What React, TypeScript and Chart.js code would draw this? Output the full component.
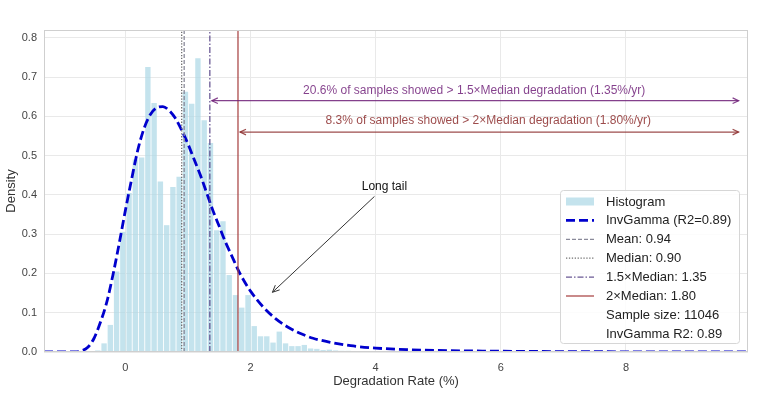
import { useEffect, useRef } from "react";
import { Chart, registerables } from "chart.js";
Chart.register(...registerables);

// ---------- data ----------
const binCenters = [
  -0.44, -0.34, -0.24, -0.14, -0.04, 0.06, 0.16, 0.26, 0.36, 0.46, 0.56, 0.66, 0.76, 0.86, 0.96,
  1.06, 1.16, 1.26, 1.36, 1.46, 1.56, 1.66, 1.76, 1.86, 1.96, 2.06, 2.16, 2.26, 2.36, 2.46,
  2.56, 2.66, 2.76, 2.86, 2.96, 3.06, 3.16, 3.26, 3.36, 3.46, 3.56, 3.66, 3.76, 3.86, 3.96, 4.06,
];
const binDensity = [
  0.004, 0.022, 0.069, 0.205, 0.306, 0.405, 0.49, 0.495, 0.726, 0.634, 0.434, 0.323, 0.42, 0.446, 0.663,
  0.632, 0.748, 0.59, 0.532, 0.31, 0.333, 0.196, 0.145, 0.113, 0.145, 0.066, 0.04, 0.04, 0.024, 0.052,
  0.022, 0.015, 0.015, 0.018, 0.009, 0.008, 0.005, 0.006, 0.004, 0.003, 0.003, 0.002, 0.002, 0.001, 0.002, 0.001,
];
const fitX = [
  -1.3, -0.8, -0.7, -0.6, -0.5, -0.4, -0.3, -0.2, -0.1, 0.0, 0.1, 0.2, 0.3, 0.4, 0.5, 0.6, 0.7, 0.8, 0.9,
  1.0, 1.1, 1.2, 1.3, 1.4, 1.5, 1.6, 1.7, 1.8, 1.9, 2.0, 2.2, 2.4, 2.6, 2.8, 3.0, 3.3, 3.6, 4.0, 4.5,
  5.0, 6.0, 7.0, 8.0, 9.95,
];
const fitY = [
  0.0, 0.0, 0.003, 0.012, 0.035, 0.075, 0.125, 0.195, 0.275, 0.36, 0.44, 0.515, 0.57, 0.605, 0.622, 0.625, 0.615, 0.595, 0.565,
  0.53, 0.49, 0.45, 0.405, 0.36, 0.32, 0.28, 0.245, 0.21, 0.18, 0.155, 0.115, 0.085, 0.063, 0.047, 0.035, 0.024, 0.016, 0.01, 0.006,
  0.004, 0.002, 0.001, 0.0005, 0.0002,
];
const MEAN = 0.94;
const MEDIAN = 0.9;
const MEDIAN_15 = 1.35;
const MEDIAN_2 = 1.8;
const xTicks = [0, 2, 4, 6, 8];
const yTicks = [0, 0.1, 0.2, 0.3, 0.4, 0.5, 0.6, 0.7, 0.8];
const X_MIN = -1.3;
const X_MAX = 9.95;
const Y_MIN = 0;
const Y_MAX = 0.82;

const legendLabels = [
  "Histogram",
  "InvGamma (R2=0.89)",
  "Mean: 0.94",
  "Median: 0.90",
  "1.5\u00d7Median: 1.35",
  "2\u00d7Median: 1.80",
  "Sample size: 11046",
  "InvGamma R2: 0.89",
];
const spanText1 = "20.6% of samples showed > 1.5\u00d7Median degradation (1.35%/yr)";
const spanText2 = "8.3% of samples showed > 2\u00d7Median degradation (1.80%/yr)";
const span1 = { x0: 1.35, x1: 9.8, y: 0.64, ty: 0.665 };
const span2 = { x0: 1.8, x1: 9.8, y: 0.56, ty: 0.588 };
const tailText = "Long tail";
const tailTextPos = { x: 4.14, y: 0.42 };
const tailTip = { x: 2.35, y: 0.152 };

// ---------- styles ----------
const FONT = "'Liberation Sans', Arial, Helvetica, sans-serif";
const BAR_COLOR = "rgba(173,216,230,0.72)";
const FIT_COLOR = "#0000cd";
const MEAN_COLOR = "#8a8a9a";
const MEDIAN_COLOR = "#707070";
const M15_COLOR = "rgba(80,60,130,0.85)";
const M2_COLOR = "rgba(165,60,60,0.8)";
const SPAN1_COLOR = "rgba(110,30,120,0.85)";
const SPAN2_COLOR = "rgba(140,45,45,0.85)";

const lineStyles = [
  { color: FIT_COLOR, width: 2.8, dash: [9, 4] },
  { color: MEAN_COLOR, width: 1.3, dash: [4, 2] },
  { color: MEDIAN_COLOR, width: 1.3, dash: [1.3, 1.6] },
  { color: M15_COLOR, width: 1.3, dash: [6, 2, 1.5, 2] },
  { color: M2_COLOR, width: 1.5, dash: [] as number[] },
];

function vline(x: number) {
  return [
    { x, y: Y_MIN },
    { x, y: Y_MAX },
  ];
}

function arrowHead(ctx: CanvasRenderingContext2D, x: number, y: number, ang: number, len: number, hw: number) {
  ctx.beginPath();
  ctx.moveTo(x - len * Math.cos(ang) + hw * Math.sin(ang), y - len * Math.sin(ang) - hw * Math.cos(ang));
  ctx.lineTo(x, y);
  ctx.lineTo(x - len * Math.cos(ang) - hw * Math.sin(ang), y - len * Math.sin(ang) + hw * Math.cos(ang));
  ctx.stroke();
}

const overlayPlugin = {
  id: "overlay",
  afterDatasetsDraw(chart: any) {
    const ctx: CanvasRenderingContext2D = chart.ctx;
    const xs = chart.scales.x;
    const ys = chart.scales.y;
    const area = chart.chartArea;
    ctx.save();

    // frame
    ctx.strokeStyle = "#cfcfcf";
    ctx.lineWidth = 1;
    ctx.setLineDash([]);
    ctx.strokeRect(area.left + 0.5, area.top + 0.5, area.right - area.left - 1, area.bottom - area.top - 1);

    // span arrows
    const spans = [
      { s: span1, t: spanText1, c: SPAN1_COLOR },
      { s: span2, t: spanText2, c: SPAN2_COLOR },
    ];
    ctx.font = `12px ${FONT}`;
    ctx.textAlign = "center";
    ctx.textBaseline = "middle";
    for (const { s, t, c } of spans) {
      const px0 = xs.getPixelForValue(s.x0) + 2;
      const px1 = xs.getPixelForValue(s.x1);
      const py = ys.getPixelForValue(s.y);
      ctx.strokeStyle = c;
      ctx.lineWidth = 1.2;
      ctx.beginPath();
      ctx.moveTo(px0, py);
      ctx.lineTo(px1, py);
      ctx.stroke();
      arrowHead(ctx, px1, py, 0, 6, 2.8);
      arrowHead(ctx, px0, py, Math.PI, 6, 2.8);
      ctx.fillStyle = c;
      ctx.fillText(t, (xs.getPixelForValue(s.x0) + px1) / 2, ys.getPixelForValue(s.ty));
    }

    // long tail annotation
    const tx = xs.getPixelForValue(tailTextPos.x);
    const ty = ys.getPixelForValue(tailTextPos.y);
    const ax = xs.getPixelForValue(tailTip.x);
    const ay = ys.getPixelForValue(tailTip.y);
    ctx.fillStyle = "#111";
    ctx.font = `12px ${FONT}`;
    ctx.fillText(tailText, tx, ty);
    const hwBox = ctx.measureText(tailText).width / 2 + 2;
    const hhBox = 8;
    const dx = ax - tx;
    const dy = ay - ty;
    const tEdge = Math.min(Math.abs(hwBox / dx), Math.abs(hhBox / dy));
    const sx = tx + dx * tEdge;
    const sy = ty + dy * tEdge;
    const ang = Math.atan2(dy, dx);
    ctx.strokeStyle = "#333";
    ctx.lineWidth = 1;
    ctx.beginPath();
    ctx.moveTo(sx + 2 * Math.cos(ang), sy + 2 * Math.sin(ang));
    ctx.lineTo(ax, ay);
    ctx.stroke();
    arrowHead(ctx, ax, ay, ang, 7, 3.2);

    // legend
    const lx = 560;
    const ly = 190;
    const lw = 179;
    const lh = 153;
    ctx.fillStyle = "rgba(255,255,255,0.85)";
    ctx.strokeStyle = "#d6d6d6";
    ctx.lineWidth = 1;
    ctx.beginPath();
    (ctx as any).roundRect(lx + 0.5, ly + 0.5, lw, lh, 3);
    ctx.fill();
    ctx.stroke();
    const rowY0 = 201.5;
    const rowStep = 18.9;
    const hx0 = 566;
    const hx1 = 594;
    ctx.font = `13px ${FONT}`;
    ctx.textAlign = "left";
    ctx.textBaseline = "middle";
    legendLabels.forEach((lab, i) => {
      const y = rowY0 + i * rowStep;
      if (i === 0) {
        ctx.fillStyle = BAR_COLOR;
        ctx.fillRect(hx0, y - 4, hx1 - hx0, 8);
      } else if (i <= 5) {
        const st = lineStyles[i - 1];
        ctx.strokeStyle = st.color;
        ctx.lineWidth = st.width;
        ctx.setLineDash(st.dash);
        ctx.beginPath();
        ctx.moveTo(hx0, y);
        ctx.lineTo(hx1, y);
        ctx.stroke();
        ctx.setLineDash([]);
      }
      ctx.fillStyle = "#222";
      ctx.fillText(lab, 606, y + 0.5);
    });

    ctx.restore();
  },
};

export default function App() {
  const ref = useRef<HTMLCanvasElement | null>(null);
  useEffect(() => {
    document.body.style.margin = "0";
    const canvas = ref.current;
    if (!canvas) return;
    Chart.defaults.font.family = FONT;
    const vl = (label: string, x: number, idx: number) => {
      const st = lineStyles[idx];
      return {
        type: "line" as const,
        label,
        data: vline(x),
        borderColor: st.color,
        borderWidth: st.width,
        borderDash: st.dash,
        pointRadius: 0,
        tension: 0,
        order: 1,
      };
    };
    const chart = new Chart(canvas, {
      type: "bar",
      data: {
        datasets: [
          {
            type: "bar",
            label: "Histogram",
            data: binCenters.map((x, i) => ({ x, y: binDensity[i] })),
            backgroundColor: BAR_COLOR,
            borderWidth: 0,
            barPercentage: 0.86,
            categoryPercentage: 1,
            order: 10,
          },
          {
            type: "line",
            label: "InvGamma",
            data: fitX.map((x, i) => ({ x, y: fitY[i] })),
            borderColor: FIT_COLOR,
            borderWidth: 2.8,
            borderDash: [9, 4],
            pointRadius: 0,
            cubicInterpolationMode: "monotone",
            order: 2,
          },
          vl("Mean", MEAN, 1),
          vl("Median", MEDIAN, 2),
          vl("1.5xMedian", MEDIAN_15, 3),
          vl("2xMedian", MEDIAN_2, 4),
        ] as any,
      },
      options: {
        responsive: false,
        animation: false,
        layout: { padding: { top: 30, right: 11, left: 0, bottom: 0 } },
        plugins: { legend: { display: false }, tooltip: { enabled: false } },
        scales: {
          x: {
            type: "linear",
            min: X_MIN,
            max: X_MAX,
            offset: false,
            grid: { color: "#e9e9e9", drawTicks: false, offset: false },
            border: { display: false },
            afterBuildTicks: (s: any) => {
              s.ticks = xTicks.map((v) => ({ value: v }));
            },
            afterFit: (s: any) => {
              s.height = 44;
            },
            ticks: {
              padding: 9,
              font: { size: 11 },
              color: "#444",
              callback: (v: any) => String(v),
            },
            title: {
              display: true,
              text: "Degradation Rate (%)",
              font: { size: 13 },
              color: "#333",
              padding: { top: 2, bottom: 7 },
            },
          },
          y: {
            type: "linear",
            min: Y_MIN,
            max: Y_MAX,
            grid: { color: "#e9e9e9", drawTicks: false },
            border: { display: false },
            afterBuildTicks: (s: any) => {
              s.ticks = yTicks.map((v) => ({ value: v }));
            },
            afterFit: (s: any) => {
              s.width = 44;
            },
            ticks: {
              padding: 7,
              font: { size: 11 },
              color: "#444",
              callback: (v: any) => Number(v).toFixed(1),
            },
            title: {
              display: true,
              text: "Density",
              font: { size: 13 },
              color: "#333",
              padding: { top: 4, bottom: 0 },
            },
          },
        },
      },
      plugins: [overlayPlugin],
    });
    return () => chart.destroy();
  }, []);
  return <canvas ref={ref} width={759} height={396} style={{ display: "block" }} />;
}
